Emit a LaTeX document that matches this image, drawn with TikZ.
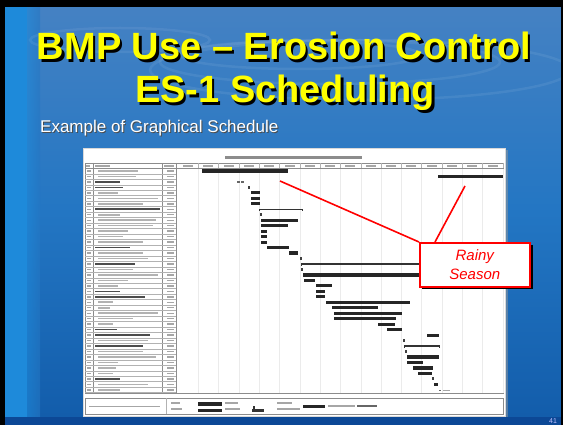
\documentclass[tikz,border=0pt]{standalone}
\usepackage{fontspec}
\setmainfont{Liberation Sans}
\definecolor{bgtop}{RGB}{70,130,195}
\definecolor{bgmid}{RGB}{35,118,195}
\definecolor{bgbot}{RGB}{18,92,170}
\definecolor{stripe}{RGB}{30,138,218}
\definecolor{band}{RGB}{12,72,150}
\definecolor{ttl}{RGB}{255,255,0}
\definecolor{rd}{RGB}{255,0,0}
\tikzset{
  titletext/.style={anchor=base, text=ttl, font=\fontsize{38}{40}\selectfont\bfseries, inner sep=0},
  titleshadow/.style={anchor=base, text=black, font=\fontsize{38}{40}\selectfont\bfseries, inner sep=0},
  subtext/.style={anchor=base west, font=\fontsize{17}{19}\selectfont, inner sep=0},
  redline/.style={draw=rd, line width=1.6pt},
  gridline/.style={draw=black!30, line width=0.3pt},
  frameline/.style={draw=black!45, line width=0.5pt},
  blurtext/.style={fill=black, opacity=0.35},
  bartask/.style={fill=black!85},
}
\begin{document}
\begin{tikzpicture}[x=1pt,y=-1pt]
\useasboundingbox (0,0) rectangle (563,425);
% background
\shade[top color=bgtop, bottom color=bgbot, middle color=bgmid] (0,0) rectangle (563,425);
\fill[stripe] (5,0) rectangle (27,425);
\shade[left color=stripe, right color=bgmid, opacity=0.6] (27,0) rectangle (40,425);
\foreach \cx/\cy/\rx/\ry in {330/62/170/22, 300/55/120/14, 360/70/210/30, 120/40/90/12}
  \draw[white, opacity=0.07, line width=2.5pt] (\cx,\cy) ellipse ({\rx} and {\ry});
\fill[band] (0,417) rectangle (563,425);
% black frame
\fill[black] (0,0) rectangle (563,7);
\fill[black] (0,0) rectangle (5,425);
\fill[black] (561,0) rectangle (563,425);

% title
\node[titleshadow] (t1s) at (286.5,62.5) {BMP Use – Erosion Control};
\node[titletext] (t1) at (284,60) {BMP Use – Erosion Control};
\node[titleshadow] (t2s) at (287.5,105.5) {ES-1 Scheduling};
\node[titletext] (t2) at (285,103) {ES-1 Scheduling};
\node[subtext, text=black!70] (subs) at (41,134) {Example of Graphical Schedule};
\node[subtext, text=white] (sub) at (40,133) {Example of Graphical Schedule};

% chart image
\fill[black!40, opacity=0.5] (505,150) rectangle (508,417);
\node[fill=white, draw=black!15, minimum width=422pt, minimum height=268pt, anchor=north west, inner sep=0] (chart) at (83,148) {};
% chart title
\fill[black, opacity=0.45] (225,155.8) rectangle (362,158.6);
% table frame
\draw[frameline] (85,163) rectangle (503,393);
\draw[frameline] (85,168.5) -- (503,168.5);
\foreach \xx in {93,162,176} \draw[frameline] (\xx,163) -- (\xx,393);
% header labels
\fill[blurtext] (86,165) rectangle (90,166.6);
\fill[blurtext] (95,165) rectangle (110,166.6);
\fill[blurtext] (164,165) rectangle (174,166.6);
\foreach \k in {0,...,15} {
  \pgfmathsetmacro\hx{178+20.3*\k}
  \draw[gridline] (\hx+20.3,163) -- (\hx+20.3,168.5);
  \fill[blurtext] (\hx+5,165) rectangle (\hx+15,166.6);
  \draw[black!8, line width=0.3pt] (\hx+20.3,169) -- (\hx+20.3,393);
}
% task rows
\foreach \w/\b [count=\i from 0] in {40/0,38/0,25/1,28/1,20/0,60/0,45/0,65/1,22/0,58/0,55/0,30/0,25/0,45/0,35/1,45/0,50/0,40/1,35/0,60/0,30/0,20/0,25/1,50/1,15/0,12/0,60/0,35/0,15/0,22/1,55/1,50/0,48/1,45/0,58/0,20/0,18/0,15/0,25/1,50/0,22/0} {
  \pgfmathsetmacro\yy{171+5.47*\i}
  \pgfmathsetmacro\op{0.3+0.4*\b}
  \pgfmathsetmacro\xs{95+3*(1-\b)}
  \draw[gridline] (85,\yy+2.73) -- (176,\yy+2.73);
  \fill[black, opacity=\op] (\xs,\yy-0.8) rectangle (\xs+\w,\yy+0.8);
  \fill[blurtext] (87,\yy-0.7) rectangle (91,\yy+0.7);
  \fill[blurtext] (167,\yy-0.7) rectangle (174,\yy+0.7);
}
% gantt bars
\foreach \i/\a/\b in {0/202/288, 1/438/503, 4/251/260, 5/251/260, 6/251/260, 9/261/298, 10/261/288, 11/261/267, 12/261/267, 13/261/267, 14/267/289, 15/289/298, 19/303/440, 20/304/315, 21/316/332, 22/316/325, 23/316/325, 24/326/410, 25/332/378, 26/334/402, 27/334/396, 28/378/395, 29/387/402, 30/427/439, 34/407/439, 35/407/423, 36/413/433, 37/418/432, 39/434/438} {
  \pgfmathsetmacro\yy{171+5.47*\i}
  \fill[bartask] (\a,\yy-1.6) rectangle (\b,\yy+1.6);
}
\foreach \i/\a/\b in {7/259/303, 17/301/440, 32/404/440} {
  \pgfmathsetmacro\yy{171+5.47*\i}
  \fill[black!80] (\a,\yy-0.7) rectangle (\b,\yy+0.7);
  \fill[black!80] (\a,\yy-0.7) rectangle (\a+1.3,\yy+2.2);
  \fill[black!80] (\b-1.3,\yy-0.7) rectangle (\b,\yy+2.2);
}
\foreach \i/\a in {3/249, 8/261, 16/301, 18/302, 31/404, 33/406, 38/433} {
  \pgfmathsetmacro\yy{171+5.47*\i}
  \fill[black!75] (\a-0.8,\yy-1.5) rectangle (\a+0.8,\yy+1.5);
}
\fill[black!60] (237,181) rectangle (239.5,183.5);
\fill[black!60] (241,181) rectangle (243.5,183.5);
\fill[black!60] (439,389.5) rectangle (441,391);
\fill[blurtext] (443,389.5) rectangle (450,391);
% legend
\draw[frameline] (85,398) rectangle (503,414);
\draw[gridline] (166,398) -- (166,414);
\fill[blurtext] (89,405.5) rectangle (160,407);
\fill[blurtext] (171,402) rectangle (180,403.5);
\fill[blurtext] (171,408) rectangle (182,409.5);
\fill[black!85] (198,402) rectangle (222,405.5);
\fill[black!85] (198,408.5) rectangle (222,412);
\fill[blurtext] (225,402) rectangle (238,403.5);
\fill[blurtext] (225,408) rectangle (240,409.5);
\fill[black!80] (253,406) rectangle (254.5,409);
\fill[black!80] (252,409) rectangle (264,411.5);
\fill[blurtext] (277,402) rectangle (292,403.5);
\fill[blurtext] (277,408) rectangle (300,409.5);
\fill[black!85] (303,404.5) rectangle (325,407.5);
\fill[blurtext] (328,405) rectangle (355,406.5);
\fill[black!60] (357,404.5) rectangle (377,407);

% callout
\coordinate (p1) at (280,181);
\coordinate (p2) at (465,186);
\fill[black] (422,245) rectangle (532.5,289.5);
\node[fill=white, draw=rd, line width=1.6pt, minimum width=110pt, minimum height=44pt, anchor=north west, inner sep=0,
      text=rd, align=center, font=\fontsize{15}{19}\selectfont\itshape] (callout) at (419,242) {Rainy\\Season};
\draw[redline] (p1) -- (callout.north west);
\draw[redline] (p2) -- ([xshift=16pt]callout.north west);
% page number
\node[text=white!75!blue, font=\fontsize{7}{8}\selectfont, inner sep=0] (pg) at (553,421) {41};
\end{tikzpicture}
\end{document}
